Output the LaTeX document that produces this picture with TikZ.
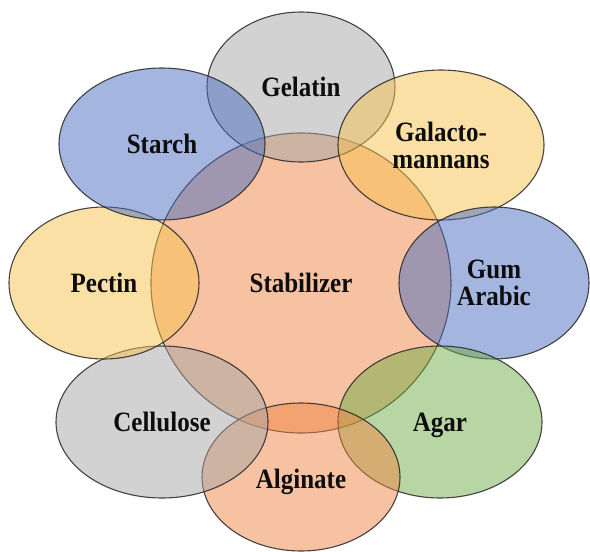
\documentclass[tikz,border=0pt]{standalone}
\usepackage{fontspec}
\setmainfont{Liberation Serif}
\usepackage{tikz}
\usetikzlibrary{shapes.geometric}
\usepackage{xcolor}
\definecolor{OffGray}{HTML}{A5A5A5}
\definecolor{OffBlue}{HTML}{4A6CC0}
\definecolor{OffGold}{HTML}{F7C24E}
\definecolor{OffOrange}{HTML}{EE8543}
\definecolor{OffGreen}{HTML}{70AD47}
\newcommand{\tallword}[1]{\scalebox{1}[1.12]{#1}}
\newcommand{\lowword}[2]{\raisebox{-#1}[\height][\depth]{\tallword{#2}}}
\tikzset{
	blob/.style={ellipse, draw=black!85, line width=1.1pt, draw opacity=0.85,
		fill opacity=0.5, text opacity=1, inner sep=0pt, align=center,
		font=\fontsize{25}{27}\selectfont\bfseries, text=black!95},
	grayblob/.style={blob, fill=OffGray},
	blueblob/.style={blob, fill=OffBlue},
	goldblob/.style={blob, fill=OffGold},
	orangeblob/.style={blob, fill=OffOrange},
	greenblob/.style={blob, fill=OffGreen}
}

\begin{document}
\begin{tikzpicture}[x=1pt, y=-1pt]
	
	\useasboundingbox (0,0) rectangle (590,552);
	
	% Central circle
	\node[orangeblob, minimum width=300pt, minimum height=300pt] (stab) at (301,283) {\tallword{Stabilizer}};
	
	% Ring of ellipses, clockwise from the top
	\node[grayblob, minimum width=188pt, minimum height=150pt] (gel) at (301,87) {\tallword{Gelatin}};
	\node[goldblob, minimum width=206pt, minimum height=150pt] (gal) at (441,145) {\tallword{Galacto-}\\\tallword{mannans}};
	\node[blueblob, minimum width=190pt, minimum height=152pt] (gum) at (494,283) {\tallword{Gum}\\\tallword{Arabic}};
	\node[greenblob, minimum width=204pt, minimum height=152pt] (agar) at (440,422) {\lowword{3pt}{Agar}};
	\node[orangeblob, minimum width=198pt, minimum height=148pt] (alg) at (301,477) {\lowword{5pt}{Alginate}};
	\node[grayblob, minimum width=212pt, minimum height=152pt] (cell) at (162,422) {\tallword{Cellulose}};
	\node[goldblob, minimum width=190pt, minimum height=152pt] (pec) at (104,283) {\tallword{Pectin}};
	\node[blueblob, minimum width=206pt, minimum height=152pt] (starch) at (162,144) {\tallword{Starch}};
	
\end{tikzpicture}
\end{document}
